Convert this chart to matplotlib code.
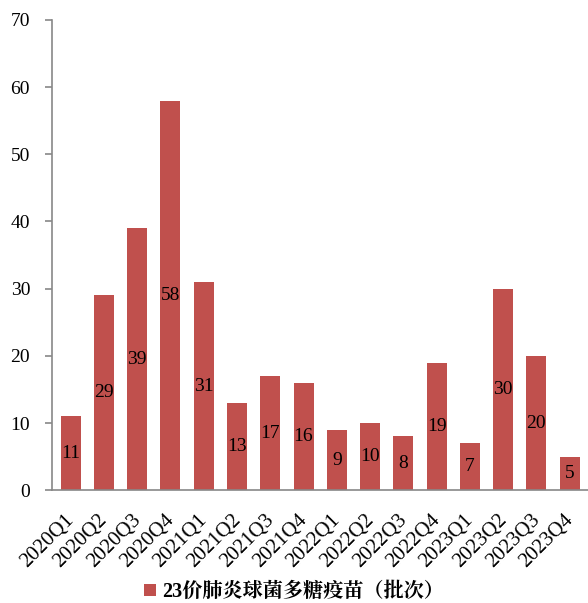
import matplotlib
matplotlib.use('Agg')
import matplotlib.pyplot as plt
from matplotlib.transforms import ScaledTranslation

quarters = ['2020Q1', '2020Q2', '2020Q3', '2020Q4',
            '2021Q1', '2021Q2', '2021Q3', '2021Q4',
            '2022Q1', '2022Q2', '2022Q3', '2022Q4',
            '2023Q1', '2023Q2', '2023Q3', '2023Q4']
batches = [11, 29, 39, 58, 31, 13, 17, 16, 9, 10, 8, 19, 7, 30, 20, 5]
series_name = '23价肺炎球菌多糖疫苗（批次）'

plt.rcParams['font.family'] = ['Liberation Serif', 'Noto Serif CJK SC', 'Noto Sans CJK SC', 'DejaVu Sans']

fig = plt.figure(figsize=(5.88, 6.03), dpi=100)
ax = fig.add_axes([0.089, 0.187, 0.911, 0.78])

x = list(range(len(quarters)))
bars = ax.bar(x, batches, width=0.6, color='#C0504D', label=series_name)
for xi, v in zip(x, batches):
    ax.text(xi, v / 2, str(v), ha='center', va='center', fontsize=14, color='black')

ax.set_ylim(0, 70)
ax.set_yticks(range(0, 71, 10))
ax.set_xlim(-0.55, len(quarters) - 0.45)
ax.set_xticks(x)
ax.set_xticklabels(quarters, rotation=45, ha='right', rotation_mode='anchor', fontsize=15)
ax.tick_params(axis='y', labelsize=14, length=5, color='#888888', width=1.2, pad=11)
ax.tick_params(axis='x', length=0, pad=13)
# nudge rotated labels a bit left, like the original
shift = ScaledTranslation(-6 / 100, -2 / 100, fig.dpi_scale_trans)
for lab in ax.get_xticklabels():
    lab.set_transform(lab.get_transform() + shift)

for s in ['top', 'right']:
    ax.spines[s].set_visible(False)
for s in ['left', 'bottom']:
    ax.spines[s].set_color('#888888')
    ax.spines[s].set_linewidth(1.2)

leg = fig.legend(handles=[bars], labels=[series_name], loc='center',
                 bbox_to_anchor=(0.5, 0.018), frameon=False, handlelength=0.6,
                 handleheight=0.6, handletextpad=0.3,
                 prop={'family': ['Liberation Serif', 'Noto Serif CJK SC', 'Noto Sans CJK SC'],
                       'weight': 'bold', 'size': 14.5})

fig.savefig('out.png', dpi=100)
